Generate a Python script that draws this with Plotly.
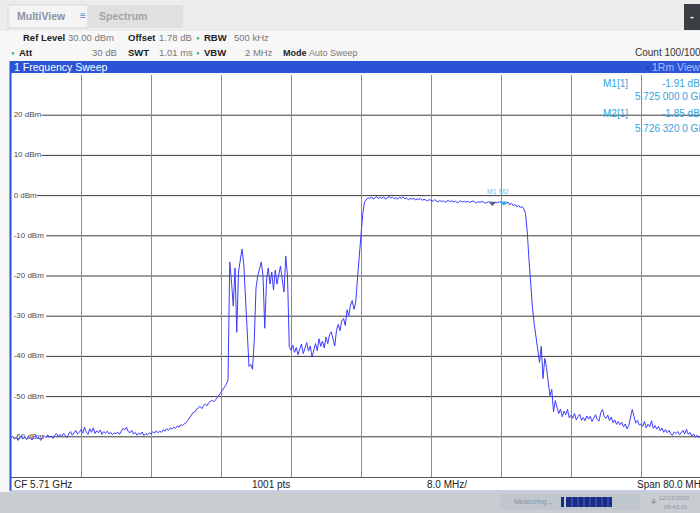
import numpy as np
import plotly.graph_objects as go

# ---------------- data ----------------
CF_GHZ = 5.71
SPAN_GHZ = 0.08
N_PTS = 401          # sweep points (every 0.2 MHz)
START_GHZ = CF_GHZ - SPAN_GHZ / 2
freq_ghz = START_GHZ + np.arange(N_PTS) * (SPAN_GHZ / (N_PTS - 1))

level_dbm = [
    -60.3, -59.8, -60.6, -60.1, -60.9, -60.2, -59.7, -60.4, -60.0, -60.7, -59.9, -60.3, -60.8, -60.1, -59.6, -60.4, -60.2, -60.9, -60.0, -59.8,
    -60.2, -59.5, -60.1, -59.8, -60.4, -59.6, -59.2, -60.0, -59.4, -59.9, -59.1, -59.7, -60.2, -59.3, -58.7, -59.6, -59.0, -58.4, -59.3, -58.9,
    -58.2, -59.1, -57.6, -58.8, -59.4, -58.0, -58.9, -57.8, -59.2, -58.5, -59.0, -58.3, -59.4, -58.7, -59.1, -58.6, -59.3, -58.9, -59.5, -59.0,
    -59.2, -58.8, -59.4, -58.5, -57.9, -58.3, -57.6, -58.7, -59.0, -58.4, -59.3, -58.9, -59.6, -59.1, -59.4, -58.8, -59.7, -59.2, -59.5, -59.0,
    -59.3, -58.7, -59.1, -58.5, -59.0, -58.6, -58.9, -58.2, -58.6, -58.0, -58.4, -57.8, -58.1, -57.6, -57.9, -57.3, -57.6, -57.0, -57.2, -56.8,
    -56.5, -55.9, -55.2, -54.6, -54.0, -53.8, -53.1, -52.8, -52.4, -53.0, -52.2, -51.9, -52.3, -51.5, -51.2, -50.9, -51.3, -50.6, -50.2, -49.6,
    -49.0, -48.3, -47.9, -47.0, -45.8, -16.5, -21.5, -27.5, -18.0, -34.0, -19.0, -15.5, -13.3, -17.0, -25.0, -34.0, -42.5, -42.0, -43.2, -36.0,
    -23.0, -20.0, -18.5, -16.5, -20.0, -33.0, -21.0, -18.0, -22.0, -19.0, -23.5, -18.5, -22.0, -20.0, -17.5, -21.0, -24.0, -15.0, -20.0, -37.5,
    -38.5, -37.2, -39.0, -37.8, -39.6, -38.2, -36.9, -39.3, -38.0, -36.6, -38.7, -37.4, -40.2, -38.1, -36.8, -38.6, -35.6, -37.5, -36.2, -37.9,
    -35.2, -36.8, -34.6, -33.9, -35.8, -37.4, -33.5, -32.0, -33.6, -31.2, -30.6, -32.3, -28.4, -29.9, -27.2, -26.1, -28.3, -26.5, -20.5, -15.5,
    -9.0, -4.5, -1.6, -0.9, -0.5, -0.8, -0.3, -0.9, -0.6, -0.2, -0.8, -0.4, -0.7, -0.3, -0.9, -0.5, -0.2, -0.6, -0.4, -0.8,
    -0.5, -0.9, -0.4, -0.7, -0.3, -0.8, -0.6, -1.0, -0.7, -0.9, -0.6, -1.1, -0.8, -1.0, -0.7, -1.2, -0.9, -1.1, -1.3, -1.0,
    -1.2, -1.4, -1.0, -1.3, -1.6, -1.2, -1.5, -1.3, -1.7, -1.4, -1.2, -1.5, -1.3, -1.6, -1.4, -1.8, -1.5, -1.3, -1.6, -1.4,
    -1.6, -1.4, -1.7, -1.5, -1.3, -1.6, -1.8, -1.5, -1.7, -1.4, -1.6, -1.9, -1.7, -1.5, -1.8, -1.91, -2.1, -1.6, -1.8, -1.5,
    -1.6, -1.85, -1.7, -2.0, -1.6, -2.3, -1.9, -2.5, -2.2, -2.8, -2.4, -3.0, -2.7, -3.3, -4.5, -9.0, -16.0, -23.0, -28.0, -32.0,
    -35.5, -39.0, -41.5, -37.5, -45.5, -40.5, -42.8, -46.5, -49.8, -48.2, -53.8, -51.0, -52.6, -54.2, -53.1, -55.0, -53.6, -54.5, -53.2, -55.3,
    -54.6, -55.4, -54.2, -55.8, -55.0, -54.4, -55.9, -55.2, -56.0, -54.8, -55.6, -54.9, -56.2, -55.3, -54.5, -55.7, -56.1, -54.0, -53.2, -55.0,
    -55.4, -54.6, -56.0, -55.1, -56.5, -55.8, -56.9, -56.2, -57.0, -56.4, -57.5, -56.8, -58.0, -57.2, -55.5, -53.2, -55.0, -56.6, -55.9, -57.1,
    -56.8, -57.4, -56.2, -57.8, -56.9, -57.5, -56.0, -57.9, -57.2, -58.1, -57.4, -58.5, -57.8, -58.9, -58.2, -59.0, -58.4, -59.3, -59.6, -58.8,
    -59.2, -58.7, -59.5, -59.0, -58.4, -59.3, -58.1, -59.4, -58.9, -59.8, -59.3, -60.1, -59.6, -60.2, -59.7, -60.3, -59.9, -60.4, -60.0, -60.5,
    -60.2,
]
assert len(level_dbm) == N_PTS

y_levels = [20, 10, 0, -10, -20, -30, -40, -50, -60]
y_labels = ["20 dBm", "10 dBm", "0 dBm", "-10 dBm", "-20 dBm", "-30 dBm", "-40 dBm", "-50 dBm", "-60 dBm"]
REF_LEVEL = 30
BOTTOM_LEVEL = -70
DIV_GHZ = 0.008

marker_names = ["M1", "M2"]
marker_freq_ghz = [5.725, 5.72632]
marker_level_dbm = [-1.91, -1.85]
marker_freq_text = ["5.725 000 0 GHz", "5.726 320 0 GHz"]

# ---------------- geometry helpers (pixel -> paper) ----------------
W, H = 700, 513
L, R, T, B = 11, 700, 75, 477   # plot area in pixels


def PX(p):
    return (p - L) / (R - L)


def PY(p):
    return (B - p) / (B - T)


FONT = "Liberation Sans"
BLUE_BAR = "#2c52d6"
MK_BLUE = "#33a3dc"

fig = go.Figure()

# y tick labels drawn as text under the trace
label_x = START_GHZ + 0.0003
fig.add_trace(go.Scatter(
    x=[label_x] * len(y_levels), y=y_levels, text=y_labels, mode="text",
    textposition="middle right", textfont=dict(family=FONT, size=8, color="#4a4a4a"),
    hoverinfo="skip", showlegend=False))

# main trace
fig.add_trace(go.Scatter(
    x=freq_ghz, y=level_dbm, mode="lines",
    line=dict(color="#3b3bff", width=1), hoverinfo="skip", showlegend=False))

# markers
fig.add_trace(go.Scatter(
    x=marker_freq_ghz, y=marker_level_dbm, mode="markers",
    marker=dict(symbol="triangle-down", size=6, color=["#50607a", "#2ab4e6"]),
    hoverinfo="skip", showlegend=False))

shapes = []
# horizontal grid lines, starting after their labels
for lvl, lab in zip(y_levels, y_labels):
    start_px = 14 + len(lab) * 4.6
    shapes.append(dict(type="line", xref="paper", yref="y", x0=PX(start_px), x1=1,
                       y0=lvl, y1=lvl, line=dict(color="#3a3a3a", width=1), layer="below"))

# header panels
shapes += [
    dict(type="rect", xref="paper", yref="paper", x0=PX(0), x1=PX(700), y0=PY(31), y1=PY(0),
         fillcolor="#ececec", line=dict(width=0), layer="below"),
    dict(type="rect", xref="paper", yref="paper", x0=PX(8), x1=PX(88), y0=PY(28), y1=PY(5),
         fillcolor="#f4f4f4", line=dict(color="#d8d8d8", width=1), layer="below"),
    dict(type="rect", xref="paper", yref="paper", x0=PX(88), x1=PX(183), y0=PY(28), y1=PY(5),
         fillcolor="#e0e0e0", line=dict(width=0), layer="below"),
    dict(type="rect", xref="paper", yref="paper", x0=PX(684), x1=PX(700), y0=PY(30), y1=PY(4),
         fillcolor="#3b3f44", line=dict(width=0), layer="below"),
    dict(type="rect", xref="paper", yref="paper", x0=PX(0), x1=PX(700), y0=PY(60), y1=PY(31),
         fillcolor="#f7f7f7", line=dict(width=0), layer="below"),
    # blue title bar
    dict(type="rect", xref="paper", yref="paper", x0=PX(10), x1=PX(700), y0=PY(73), y1=PY(61),
         fillcolor=BLUE_BAR, line=dict(width=0), layer="below"),
    # left border
    dict(type="rect", xref="paper", yref="paper", x0=PX(9.5), x1=PX(11.5), y0=PY(491), y1=PY(61),
         fillcolor=BLUE_BAR, line=dict(width=0)),
    # footer
    dict(type="rect", xref="paper", yref="paper", x0=PX(11.5), x1=PX(700), y0=PY(491), y1=PY(477),
         fillcolor="#ffffff", line=dict(width=0), layer="below"),
    dict(type="line", xref="paper", yref="paper", x0=PX(11), x1=PX(700), y0=PY(477.5), y1=PY(477.5),
         line=dict(color="#555555", width=1)),
    dict(type="line", xref="paper", yref="paper", x0=PX(10), x1=PX(700), y0=PY(491), y1=PY(491),
         line=dict(color="#8fa0d0", width=1)),
    # status bar
    dict(type="rect", xref="paper", yref="paper", x0=PX(0), x1=PX(700), y0=PY(513), y1=PY(492),
         fillcolor="#c9cdd2", line=dict(width=0), layer="below"),
    dict(type="rect", xref="paper", yref="paper", x0=PX(500), x1=PX(640), y0=PY(510), y1=PY(494),
         fillcolor="#bfc6ce", line=dict(width=0), layer="below"),
    dict(type="rect", xref="paper", yref="paper", x0=PX(566), x1=PX(612), y0=PY(507), y1=PY(497),
         fillcolor="#1c2c86", line=dict(width=0)),
    dict(type="rect", xref="paper", yref="paper", x0=PX(561), x1=PX(564), y0=PY(507), y1=PY(497),
         fillcolor="#1c2c86", line=dict(width=0)),
]
for k in range(7):
    xp = 572 + k * 6
    shapes.append(dict(type="line", xref="paper", yref="paper", x0=PX(xp), x1=PX(xp),
                       y0=PY(507), y1=PY(497), line=dict(color="#4a64c8", width=1)))

ann = []


def txt(x, y, s, size=10, color="#222", bold=False, family=FONT, anchor="left"):
    if bold:
        s = "<b>" + s + "</b>"
    ann.append(dict(xref="paper", yref="paper", x=PX(x), y=PY(y), text=s, showarrow=False,
                    xanchor=anchor, yanchor="middle", font=dict(family=family, size=size, color=color)))


# tabs
txt(15, 16, "MultiView", 10.5, "#8893a0", True)
txt(78, 15, "\u2261", 10, "#4a8fd0")
txt(97, 16, "Spectrum", 10.5, "#a0a4aa", True)
txt(692, 16, "-", 11, "#ffffff", True, anchor="center")

# settings rows
txt(21, 38, "Ref Level", 9.5, "#222", True)
txt(66, 38, "30.00 dBm", 9.5, "#777")
txt(126, 38, "Offset", 9.5, "#222", True)
txt(157, 38, "1.78 dB", 9.5, "#777")
txt(194, 38, "\u25cf", 6, "#3cb371")
txt(202, 38, "RBW", 9.5, "#222", True)
txt(232, 38, "500 kHz", 9.5, "#777")
txt(9, 53, "\u25cf", 6, "#3cb371")
txt(17, 53, "Att", 9.5, "#222", True)
txt(90, 53, "30 dB", 9.5, "#777")
txt(126, 53, "SWT", 9.5, "#222", True)
txt(157, 53, "1.01 ms", 9.5, "#777")
txt(194, 53, "\u25cf", 6, "#3cb371")
txt(202, 53, "VBW", 9.5, "#222", True)
txt(243, 53, "2 MHz", 9.5, "#777")
txt(281, 53, "Mode", 9.0, "#222", True)
txt(307, 53, "Auto Sweep", 9.0, "#777")
txt(633, 53, "Count 100/100", 10, "#333")

# blue bar texts
txt(12, 67, "1 Frequency Sweep", 10.5, "#ffffff")
txt(644, 67, "\u25cf", 6, "#1e3a9e")
txt(650, 67, "1Rm View", 10.5, "#a9c1ff")

# marker readouts
for i, (nm, lvl, ft) in enumerate(zip(marker_names, marker_level_dbm, marker_freq_text)):
    yrow = 83 + i * 31
    txt(601, yrow, f"{nm}[1]", 10, MK_BLUE)
    txt(660, yrow, f"{lvl:.2f} dBm", 10, MK_BLUE)
    txt(633, yrow + 14, ft, 10, MK_BLUE)

# marker labels above the markers
for nm, f, lvl in zip(marker_names, marker_freq_ghz, marker_level_dbm):
    ann.append(dict(xref="x", yref="y", x=f, y=lvl, text=nm, showarrow=False, yshift=12,
                    xanchor="center", yanchor="middle",
                    font=dict(family=FONT, size=7, color="#7ab8dc")))

# footer texts
txt(12, 485, "CF 5.71 GHz", 10, "#222")
txt(250, 485, "1001 pts", 10, "#222")
txt(425, 485, "8.0 MHz/", 10, "#222")
txt(635, 485, "Span 80.0 MHz", 10, "#222")

# status bar texts
txt(512, 502, "Measuring ...", 7, "#8a96a6")
txt(648, 502, "\u2698", 8, "#7d8894")
txt(657, 498, "12/13/2020", 6, "#8a95a3")
txt(662, 507, "09:43:01", 6, "#8a95a3")

fig.update_layout(
    width=W, height=H, autosize=False,
    margin=dict(l=L, r=W - R, t=T, b=H - B, pad=0),
    paper_bgcolor="#f7f7f7", plot_bgcolor="#ffffff",
    shapes=shapes, annotations=ann, showlegend=False,
    xaxis=dict(range=[START_GHZ, START_GHZ + SPAN_GHZ * (R - L) / 700.0],
               tick0=START_GHZ, dtick=DIV_GHZ, showgrid=True, gridcolor="#8c8c8c", gridwidth=1,
               showticklabels=False, zeroline=False, showline=False, ticks=""),
    yaxis=dict(range=[BOTTOM_LEVEL, REF_LEVEL], showgrid=False, showticklabels=False,
               zeroline=False, showline=False, ticks=""),
)

fig.write_html("out.html", config={"displayModeBar": False},
               post_script="document.body.style.margin='0';document.body.style.overflow='hidden';")
